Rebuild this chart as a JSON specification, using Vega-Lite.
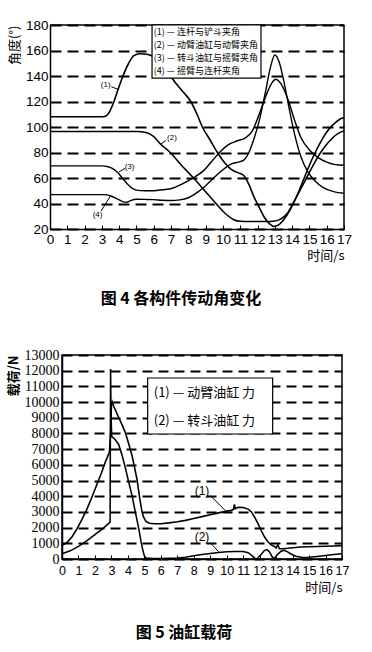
{
"$schema": "https://vega.github.io/schema/vega-lite/v6.json",
"background": "white",
"padding": {"left": 6, "top": 18, "right": 0, "bottom": 0},
"spacing": 40,
"config": {
  "view": {"stroke": "black", "strokeWidth": 1.5},
  "axis": {"labelColor": "black", "titleColor": "black", "domainColor": "black", "tickColor": "black", "labelFont": "Liberation Sans", "titleFont": "Noto Sans CJK SC", "titleFontWeight": "normal", "domainWidth": 1.5, "labelOverlap": false, "labelFlush": false, "labelBound": false},
  "title": {"color": "black"}
},
"datasets": {
  "top": [
    {"s":"1","t":0,"v":108},{"s":"1","t":1,"v":108},{"s":"1","t":2,"v":108},{"s":"1","t":3.0,"v":108},{"s":"1","t":3.2,"v":108.5},{"s":"1","t":3.4,"v":111},{"s":"1","t":3.7,"v":120},{"s":"1","t":3.95,"v":130},{"s":"1","t":4.22,"v":140},{"s":"1","t":4.55,"v":150},{"s":"1","t":4.85,"v":156},{"s":"1","t":5.2,"v":157.5},{"s":"1","t":5.6,"v":157},{"s":"1","t":6.0,"v":155},{"s":"1","t":6.4,"v":150},{"s":"1","t":6.8,"v":144},{"s":"1","t":7.07,"v":138},{"s":"1","t":7.6,"v":129},{"s":"1","t":8.14,"v":120},{"s":"1","t":8.5,"v":110},{"s":"1","t":8.81,"v":100},{"s":"1","t":9.25,"v":90},{"s":"1","t":9.68,"v":80},{"s":"1","t":10.1,"v":72},{"s":"1","t":10.5,"v":66.5},{"s":"1","t":10.9,"v":64},{"s":"1","t":11.2,"v":62},{"s":"1","t":11.5,"v":55},{"s":"1","t":11.8,"v":45},{"s":"1","t":12.1,"v":37},{"s":"1","t":12.4,"v":29},{"s":"1","t":12.7,"v":24},{"s":"1","t":12.95,"v":22},{"s":"1","t":13.2,"v":23},{"s":"1","t":13.5,"v":27},{"s":"1","t":13.8,"v":33},{"s":"1","t":14.1,"v":41},{"s":"1","t":14.4,"v":50},{"s":"1","t":14.7,"v":60},{"s":"1","t":15.0,"v":70},{"s":"1","t":15.3,"v":79},{"s":"1","t":15.6,"v":87},{"s":"1","t":15.9,"v":94},{"s":"1","t":16.2,"v":99.5},{"s":"1","t":16.5,"v":103.5},{"s":"1","t":16.8,"v":106.5},{"s":"1","t":17,"v":107.5},
    {"s":"2","t":0,"v":96.5},{"s":"2","t":1,"v":96.5},{"s":"2","t":2,"v":96.5},{"s":"2","t":3,"v":96.5},{"s":"2","t":4,"v":96.5},{"s":"2","t":5.0,"v":96.5},{"s":"2","t":5.3,"v":96.3},{"s":"2","t":5.6,"v":95.5},{"s":"2","t":6.0,"v":92.5},{"s":"2","t":6.4,"v":86.5},{"s":"2","t":6.95,"v":80},{"s":"2","t":7.6,"v":70},{"s":"2","t":8.3,"v":60},{"s":"2","t":8.95,"v":50},{"s":"2","t":9.6,"v":40},{"s":"2","t":10.15,"v":32},{"s":"2","t":10.6,"v":27.5},{"s":"2","t":11.0,"v":26},{"s":"2","t":11.5,"v":25.8},{"s":"2","t":12.0,"v":25.8},{"s":"2","t":12.5,"v":25.8},{"s":"2","t":12.9,"v":26},{"s":"2","t":13.3,"v":27.5},{"s":"2","t":13.7,"v":32},{"s":"2","t":14.1,"v":41},{"s":"2","t":14.6,"v":54},{"s":"2","t":15.1,"v":67},{"s":"2","t":15.6,"v":79},{"s":"2","t":16.1,"v":88},{"s":"2","t":16.6,"v":94.5},{"s":"2","t":17,"v":97},
    {"s":"3","t":0,"v":69.5},{"s":"3","t":1,"v":69.5},{"s":"3","t":2,"v":69.5},{"s":"3","t":3,"v":69.5},{"s":"3","t":3.3,"v":69},{"s":"3","t":3.6,"v":67.5},{"s":"3","t":3.9,"v":64.5},{"s":"3","t":4.3,"v":58},{"s":"3","t":4.7,"v":52.5},{"s":"3","t":5.0,"v":50.5},{"s":"3","t":5.5,"v":50},{"s":"3","t":6.0,"v":50},{"s":"3","t":6.5,"v":50.8},{"s":"3","t":7.07,"v":52},{"s":"3","t":7.6,"v":55},{"s":"3","t":8.2,"v":59.5},{"s":"3","t":8.9,"v":66},{"s":"3","t":9.35,"v":73},{"s":"3","t":9.8,"v":80},{"s":"3","t":10.3,"v":86},{"s":"3","t":10.8,"v":89},{"s":"3","t":11.3,"v":91.5},{"s":"3","t":11.7,"v":97},{"s":"3","t":12.1,"v":110},{"s":"3","t":12.5,"v":125},{"s":"3","t":12.85,"v":135},{"s":"3","t":13.05,"v":137.5},{"s":"3","t":13.35,"v":134},{"s":"3","t":13.75,"v":122},{"s":"3","t":14.15,"v":105},{"s":"3","t":14.5,"v":92},{"s":"3","t":15.0,"v":82},{"s":"3","t":15.5,"v":76},{"s":"3","t":16.0,"v":72.5},{"s":"3","t":16.5,"v":70.5},{"s":"3","t":17,"v":70},
    {"s":"4","t":0,"v":47},{"s":"4","t":1,"v":47},{"s":"4","t":2,"v":47},{"s":"4","t":3,"v":47},{"s":"4","t":3.3,"v":46.8},{"s":"4","t":3.6,"v":45.5},{"s":"4","t":3.9,"v":43.5},{"s":"4","t":4.2,"v":41.5},{"s":"4","t":4.45,"v":41},{"s":"4","t":4.7,"v":42.5},{"s":"4","t":5.0,"v":43.3},{"s":"4","t":5.5,"v":43.2},{"s":"4","t":6.0,"v":43},{"s":"4","t":6.5,"v":42.5},{"s":"4","t":7.0,"v":42.3},{"s":"4","t":7.5,"v":42.8},{"s":"4","t":8.0,"v":44.5},{"s":"4","t":8.5,"v":48.5},{"s":"4","t":9.0,"v":54},{"s":"4","t":9.5,"v":60.5},{"s":"4","t":10.0,"v":66.5},{"s":"4","t":10.5,"v":71},{"s":"4","t":10.9,"v":72.5},{"s":"4","t":11.2,"v":74},{"s":"4","t":11.5,"v":80},{"s":"4","t":11.8,"v":91},{"s":"4","t":12.1,"v":105},{"s":"4","t":12.45,"v":127},{"s":"4","t":12.75,"v":147},{"s":"4","t":13.0,"v":156.5},{"s":"4","t":13.25,"v":151},{"s":"4","t":13.55,"v":134},{"s":"4","t":13.85,"v":113},{"s":"4","t":14.15,"v":94},{"s":"4","t":14.5,"v":77},{"s":"4","t":14.9,"v":65},{"s":"4","t":15.3,"v":58},{"s":"4","t":15.8,"v":52.5},{"s":"4","t":16.4,"v":49.3},{"s":"4","t":17,"v":48}
  ],
  "bot": [
    {"s":"1","t":0,"v":850},{"s":"1","t":0.3,"v":1050},{"s":"1","t":0.6,"v":1400},{"s":"1","t":0.9,"v":1900},{"s":"1","t":1.2,"v":2500},{"s":"1","t":1.5,"v":3150},{"s":"1","t":1.8,"v":3900},{"s":"1","t":2.1,"v":4700},{"s":"1","t":2.4,"v":5500},{"s":"1","t":2.6,"v":6100},{"s":"1","t":2.8,"v":6600},{"s":"1","t":2.88,"v":6800},{"s":"1","t":2.95,"v":8000},{"s":"1","t":3.0,"v":9800},{"s":"1","t":3.05,"v":10000},{"s":"1","t":3.15,"v":9700},{"s":"1","t":3.3,"v":9350},{"s":"1","t":3.45,"v":9000},{"s":"1","t":3.65,"v":8550},{"s":"1","t":3.85,"v":8050},{"s":"1","t":4.05,"v":7350},{"s":"1","t":4.25,"v":6600},{"s":"1","t":4.4,"v":5850},{"s":"1","t":4.55,"v":5100},{"s":"1","t":4.66,"v":4300},{"s":"1","t":4.76,"v":3600},{"s":"1","t":4.86,"v":3000},{"s":"1","t":4.96,"v":2650},{"s":"1","t":5.1,"v":2400},{"s":"1","t":5.3,"v":2280},{"s":"1","t":5.6,"v":2250},{"s":"1","t":6.0,"v":2250},{"s":"1","t":6.5,"v":2300},{"s":"1","t":7.0,"v":2370},{"s":"1","t":7.5,"v":2460},{"s":"1","t":8.0,"v":2580},{"s":"1","t":8.5,"v":2700},{"s":"1","t":9.0,"v":2820},{"s":"1","t":9.5,"v":2940},{"s":"1","t":10.0,"v":3050},{"s":"1","t":10.3,"v":3100},{"s":"1","t":10.4,"v":3150},{"s":"1","t":10.47,"v":3480},{"s":"1","t":10.52,"v":3200},{"s":"1","t":10.7,"v":3300},{"s":"1","t":11.0,"v":3280},{"s":"1","t":11.3,"v":3180},{"s":"1","t":11.5,"v":3000},{"s":"1","t":11.7,"v":2650},{"s":"1","t":11.9,"v":2250},{"s":"1","t":12.1,"v":1800},{"s":"1","t":12.3,"v":1400},{"s":"1","t":12.5,"v":1100},{"s":"1","t":12.7,"v":900},{"s":"1","t":12.9,"v":800},{"s":"1","t":13.0,"v":700},{"s":"1","t":13.1,"v":900},{"s":"1","t":13.2,"v":650},{"s":"1","t":13.4,"v":650},{"s":"1","t":13.7,"v":680},{"s":"1","t":14.0,"v":720},{"s":"1","t":14.5,"v":760},{"s":"1","t":15.0,"v":780},{"s":"1","t":15.5,"v":800},{"s":"1","t":16.0,"v":810},{"s":"1","t":16.5,"v":830},{"s":"1","t":17,"v":850},
    {"s":"2","t":0,"v":330},{"s":"2","t":0.5,"v":520},{"s":"2","t":1.0,"v":800},{"s":"2","t":1.5,"v":1150},{"s":"2","t":2.0,"v":1550},{"s":"2","t":2.5,"v":1950},{"s":"2","t":2.92,"v":2350},{"s":"2","t":2.95,"v":12100},{"s":"2","t":2.98,"v":9000},{"s":"2","t":3.02,"v":7800},{"s":"2","t":3.2,"v":7650},{"s":"2","t":3.44,"v":7300},{"s":"2","t":3.65,"v":6600},{"s":"2","t":3.85,"v":5800},{"s":"2","t":4.05,"v":4900},{"s":"2","t":4.25,"v":4050},{"s":"2","t":4.45,"v":3000},{"s":"2","t":4.66,"v":1950},{"s":"2","t":4.8,"v":1100},{"s":"2","t":4.9,"v":600},{"s":"2","t":5.0,"v":200},{"s":"2","t":5.1,"v":60},{"s":"2","t":5.5,"v":30},{"s":"2","t":6.0,"v":30},{"s":"2","t":6.5,"v":50},{"s":"2","t":7.0,"v":70},{"s":"2","t":7.5,"v":110},{"s":"2","t":8.0,"v":200},{"s":"2","t":8.5,"v":280},{"s":"2","t":9.0,"v":350},{"s":"2","t":9.5,"v":420},{"s":"2","t":10.0,"v":460},{"s":"2","t":10.5,"v":480},{"s":"2","t":11.0,"v":480},{"s":"2","t":11.3,"v":400},{"s":"2","t":11.5,"v":250},{"s":"2","t":11.7,"v":60},{"s":"2","t":11.8,"v":0},{"s":"2","t":11.9,"v":80},{"s":"2","t":12.1,"v":300},{"s":"2","t":12.3,"v":550},{"s":"2","t":12.45,"v":600},{"s":"2","t":12.6,"v":450},{"s":"2","t":12.75,"v":150},{"s":"2","t":12.9,"v":40},{"s":"2","t":13.05,"v":250},{"s":"2","t":13.3,"v":500},{"s":"2","t":13.5,"v":560},{"s":"2","t":13.7,"v":450},{"s":"2","t":13.9,"v":320},{"s":"2","t":14.2,"v":180},{"s":"2","t":14.6,"v":100},{"s":"2","t":15.0,"v":110},{"s":"2","t":15.5,"v":160},{"s":"2","t":16.0,"v":220},{"s":"2","t":16.5,"v":280},{"s":"2","t":17,"v":330}
  ]
},
"vconcat": [
  {
    "width": 282, "height": 204,
    "view": {"stroke": null},
    "title": {"text": "图 4   各构件传动角变化", "orient": "bottom", "anchor": "middle", "dx": -22, "offset": 28, "font": "Noto Sans CJK SC", "fontSize": 16, "fontWeight": "bold"},
    "encoding": {
      "x": {"field": "t", "type": "quantitative", "title": "时间/s", "scale": {"domain": [0, 17], "nice": false, "range": [-12, 282]},
            "axis": {"values": [0,1,2,3,4,5,6,7,8,9,10,11,12,13,14,15,16,17], "titleAnchor": "end", "titleFontSize": 13, "titlePadding": 4, "labelFontSize": 13.5, "labelPadding": 7, "tickSize": -4, "grid": false}},
      "y": {"field": "v", "type": "quantitative", "title": "角度(°)", "scale": {"domain": [20, 180], "nice": false},
            "axis": {"values": [20,40,60,80,100,120,140,160,180], "offset": 12, "titleAnchor": "end", "titleFontSize": 13, "titlePadding": 4, "labelFontSize": 13.5, "labelPadding": 2, "ticks": false, "grid": true, "gridColor": "black", "gridDash": [11, 6], "gridWidth": 1.8}}
    },
    "layer": [
      {
        "data": {"name": "top"},
        "mark": {"type": "line", "interpolate": "monotone", "color": "black"},
        "encoding": {
          "strokeWidth": {"field": "s", "type": "nominal", "scale": {"domain": ["1","2","3","4"], "range": [1.6, 1.4, 2.3, 2.0]}, "legend": null},
          "detail": {"field": "s"}
        }
      },
      {
        "data": {"values": [{"t": 0, "v": 180, "t2": 17, "v2": 180}, {"t": 17, "v": 20, "t2": 17, "v2": 180}]},
        "mark": {"type": "rule", "color": "black", "strokeWidth": 1.5},
        "encoding": {"x2": {"field": "t2"}, "y2": {"field": "v2"}}
      },
      {
        "data": {"values": [{"t": 5.9, "t2": 12.2, "v": 180, "v2": 138.4}]},
        "mark": {"type": "rect", "fill": "white", "stroke": "black", "strokeWidth": 1.2},
        "encoding": {"x2": {"field": "t2"}, "y2": {"field": "v2"}}
      },
      {
        "data": {"values": [
          {"t": 6.0, "v": 174.5, "label": "(1) — 连杆与铲斗夹角"},
          {"t": 6.0, "v": 164.3, "label": "(2) — 动臂油缸与动臂夹角"},
          {"t": 6.0, "v": 154.1, "label": "(3) — 转斗油缸与摇臂夹角"},
          {"t": 6.0, "v": 143.9, "label": "(4) — 摇臂与连杆夹角"}
        ]},
        "mark": {"type": "text", "align": "left", "baseline": "middle", "font": "Noto Sans CJK SC", "fontSize": 9, "color": "black"},
        "encoding": {"text": {"field": "label"}}
      },
      {
        "data": {"values": [
          {"t": 3.22, "v": 133, "label": "(1)"},
          {"t": 7.05, "v": 91.5, "label": "(2)"},
          {"t": 4.6, "v": 69, "label": "(3)"},
          {"t": 2.75, "v": 31, "label": "(4)"}
        ]},
        "mark": {"type": "text", "align": "center", "baseline": "middle", "font": "Liberation Sans", "fontSize": 8, "color": "black"},
        "encoding": {"text": {"field": "label"}}
      },
      {
        "data": {"values": [
          {"t": 3.55, "v": 131.5, "t2": 3.95, "v2": 129.5},
          {"t": 6.7, "v": 89.5, "t2": 6.4, "v2": 86.5},
          {"t": 4.35, "v": 67.6, "t2": 3.99, "v2": 64.8},
          {"t": 2.95, "v": 34, "t2": 3.5, "v2": 46}
        ]},
        "mark": {"type": "rule", "color": "black", "strokeWidth": 1},
        "encoding": {"x2": {"field": "t2"}, "y2": {"field": "v2"}}
      }
    ]
  },
  {
    "width": 280, "height": 204,
    "title": {"text": "图 5   油缸载荷", "orient": "bottom", "anchor": "middle", "dx": -18, "offset": 30, "font": "Noto Sans CJK SC", "fontSize": 16, "fontWeight": "bold"},
    "encoding": {
      "x": {"field": "t", "type": "quantitative", "title": "时间/s", "scale": {"domain": [0, 17], "nice": false},
            "axis": {"values": [0,1,2,3,4,5,6,7,8,9,10,11,12,13,14,15,16,17], "titleAnchor": "end", "titleFontSize": 13, "titlePadding": 5, "labelFontSize": 12.5, "labelPadding": 9, "tickSize": -4, "grid": false}},
      "y": {"field": "v", "type": "quantitative", "title": "载荷/N", "scale": {"domain": [0, 13000], "nice": false},
            "axis": {"values": [0,1000,2000,3000,4000,5000,6000,7000,8000,9000,10000,11000,12000,13000], "format": "d", "titleAnchor": "end", "titleFontSize": 13, "titleFontWeight": "bold", "titlePadding": 4, "labelFont": "Liberation Sans Narrow", "labelFontSize": 14, "labelPadding": 3, "ticks": false, "grid": true, "gridColor": "black", "gridDash": [10, 6], "gridWidth": 1.8}}
    },
    "layer": [
      {
        "data": {"name": "bot"},
        "mark": {"type": "line", "interpolate": "linear", "color": "black"},
        "encoding": {
          "strokeWidth": {"field": "s", "type": "nominal", "scale": {"domain": ["1","2"], "range": [2.4, 1.4]}, "legend": null},
          "detail": {"field": "s"}
        }
      },
      {
        "data": {"values": [{"t": 5.2, "t2": 12.79, "v": 11534, "v2": 7966}]},
        "mark": {"type": "rect", "fill": "white", "stroke": "black", "strokeWidth": 1.2},
        "encoding": {"x2": {"field": "t2"}, "y2": {"field": "v2"}}
      },
      {
        "data": {"values": [
          {"t": 5.57, "v": 10580, "label": "(1) — 动臂油缸 力"},
          {"t": 5.57, "v": 8795, "label": "(2) — 转斗油缸 力"}
        ]},
        "mark": {"type": "text", "align": "left", "baseline": "middle", "font": "Noto Sans CJK SC", "fontSize": 13, "color": "black"},
        "encoding": {"text": {"field": "label"}}
      },
      {
        "data": {"values": [
          {"t": 8.5, "v": 4350, "label": "(1)"},
          {"t": 8.5, "v": 1380, "label": "(2)"}
        ]},
        "mark": {"type": "text", "align": "center", "baseline": "middle", "font": "Liberation Sans", "fontSize": 12, "color": "black"},
        "encoding": {"text": {"field": "label"}}
      },
      {
        "data": {"values": [
          {"t": 9.0, "v": 4050, "t2": 9.92, "v2": 3080},
          {"t": 9.0, "v": 1050, "t2": 9.5, "v2": 470}
        ]},
        "mark": {"type": "rule", "color": "black", "strokeWidth": 1},
        "encoding": {"x2": {"field": "t2"}, "y2": {"field": "v2"}}
      }
    ]
  }
]
}
